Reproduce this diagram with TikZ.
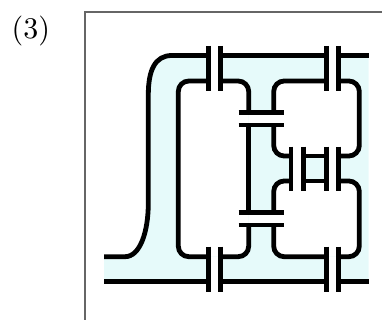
\documentclass[tikz,border=0pt]{standalone}
\usepackage{amsmath}
\usepackage{tikz}

\font\lblfont="[lmroman10-regular]" at 30pt
\definecolor{wirefill}{HTML}{E6FAFA}
\tikzset{
	wire/.style={line width=4.8pt,draw=black,rounded corners=10.5pt},
	plate/.style={line width=4.8pt,draw=black},
	room/.style={fill=white,draw=none,rounded corners=10.5pt},
	frame/.style={line width=1.2pt,draw=black!60}
}

\begin{document}
\begin{tikzpicture}[x=1pt,y=-1pt]
	
	\useasboundingbox (0,0) rectangle (382,320);
	
	\node[inner sep=0pt,anchor=base west,font=\lblfont] (lbl) at (11.5,38.5) {(3)};
	\draw[frame] (382,12) -- (85,12) -- (85,320);
	
	% shaded region, then the white rooms and gaps on top of it
	\fill[wirefill] (104,281.7) -- (104,256.7) -- (125,256.7) .. controls (140,256.7) and (148.3,232) .. (148.3,203) -- (148.3,95) .. controls (148.3,70) and (155,55.5) .. (172,55.5) -- (368.7,55.5) -- (368.7,281.7) -- cycle;
	\fill[room] (178.3,81) rectangle (248.7,256.7);
	\fill[room] (273.7,81) rectangle (359.3,156);
	\fill[room] (273.7,181) rectangle (359.3,256.7);
	\fill[white] (208.5,55.5) rectangle (220.7,81);
	\fill[white] (326.3,55.5) rectangle (338.7,81);
	\fill[white] (208.5,256.7) rectangle (220.7,281.7);
	\fill[white] (326.3,256.7) rectangle (338.7,281.7);
	\fill[white] (248.7,112.7) rectangle (273.7,125);
	\fill[white] (248.7,212.7) rectangle (273.7,225);
	\fill[white] (291,156) rectangle (303.7,181);
	\fill[white] (326.3,156) rectangle (338.7,181);
	
	% wires
	\draw[plate] (104,256.7) -- (125,256.7) .. controls (140,256.7) and (148.3,232) .. (148.3,203) -- (148.3,95) .. controls (148.3,70) and (155,55.5) .. (172,55.5) -- (208.5,55.5);
	\draw[plate] (104,281.7) -- (208.5,281.7);
	\draw[wire] (208.5,81) -- (178.3,81) -- (178.3,256.7) -- (208.5,256.7);
	\draw[plate] (220.7,55.5) -- (326.3,55.5);
	\draw[plate] (220.7,281.7) -- (326.3,281.7);
	\draw[plate] (338.7,55.5) -- (368.7,55.5);
	\draw[plate] (338.7,281.7) -- (368.7,281.7);
	\draw[wire] (220.7,81) -- (248.7,81) -- (248.7,112.7);
	\draw[wire] (326.3,81) -- (273.7,81) -- (273.7,112.7);
	\draw[wire] (273.7,125) -- (273.7,156) -- (291,156);
	\draw[wire] (273.7,212.7) -- (273.7,181) -- (291,181);
	\draw[plate] (248.7,125) -- (248.7,212.7);
	\draw[wire] (220.7,256.7) -- (248.7,256.7) -- (248.7,225);
	\draw[wire] (326.3,256.7) -- (273.7,256.7) -- (273.7,225);
	\draw[plate] (303.7,156) -- (326.3,156);
	\draw[plate] (303.7,181) -- (326.3,181);
	\draw[wire] (338.7,81) -- (359.3,81) -- (359.3,156) -- (338.7,156);
	\draw[wire] (338.7,181) -- (359.3,181) -- (359.3,256.7) -- (338.7,256.7);
	
	% capacitor plates
	\draw[plate] (208.5,46) -- (208.5,91);
	\draw[plate] (220.7,46) -- (220.7,91);
	\draw[plate] (326.3,46) -- (326.3,91);
	\draw[plate] (338.7,46) -- (338.7,91);
	\draw[plate] (208.5,246.7) -- (208.5,291.7);
	\draw[plate] (220.7,246.7) -- (220.7,291.7);
	\draw[plate] (326.3,246.7) -- (326.3,291.7);
	\draw[plate] (338.7,246.7) -- (338.7,291.7);
	\draw[plate] (238.7,112.7) -- (283.7,112.7);
	\draw[plate] (238.7,125) -- (283.7,125);
	\draw[plate] (238.7,212.7) -- (283.7,212.7);
	\draw[plate] (238.7,225) -- (283.7,225);
	\draw[plate] (291,146.7) -- (291,190.7);
	\draw[plate] (303.7,146.7) -- (303.7,190.7);
	\draw[plate] (326.3,146.7) -- (326.3,190.7);
	\draw[plate] (338.7,146.7) -- (338.7,190.7);
	
\end{tikzpicture}
\end{document}
